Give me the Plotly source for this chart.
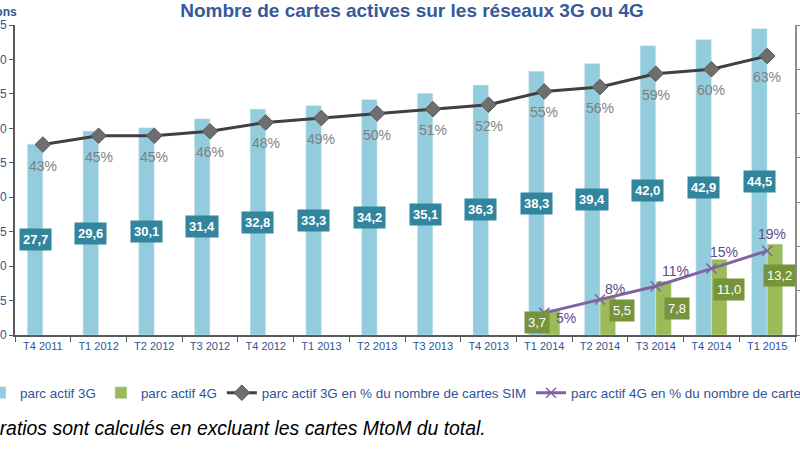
import plotly.graph_objects as go

# ---------------- data ----------------
quarters = ["T4 2011", "T1 2012", "T2 2012", "T3 2012", "T4 2012", "T1 2013", "T2 2013",
            "T3 2013", "T4 2013", "T1 2014", "T2 2014", "T3 2014", "T4 2014", "T1 2015"]
parc_3g = [27.7, 29.6, 30.1, 31.4, 32.8, 33.3, 34.2, 35.1, 36.3, 38.3, 39.4, 42.0, 42.9, 44.5]
quarters_4g = ["T1 2014", "T2 2014", "T3 2014", "T4 2014", "T1 2015"]
parc_4g = [3.7, 5.5, 7.8, 11.0, 13.2]
pct_3g = [43, 45, 45, 46, 48, 49, 50, 51, 52, 55, 56, 59, 60, 63]
pct_4g = [5, 8, 11, 15, 19]

# ---------------- style ----------------
FONT = "Liberation Sans, Arial, sans-serif"
BLUE_TXT = "#2F5597"
C3G = "#93CDDD"
C4G = "#9BBB59"
BOX3G = "#31859C"
BOX4G = "#77933C"
LINE3G = "#404040"
MARK3G = "#6E6E6E"
LINE4G = "#8064A2"
PCT3G_TXT = "#7F7F7F"
PCT4G_TXT = "#5F4A8B"

W, H = 800, 450
ML, MR, MT, MB = 15, 5, 25, 115
PW, PH = W - ML - MR, H - MT - MB


def px_x(px):
    return (px - ML) / PW


def px_y(py):
    return (H - MB - py) / PH


def fmt(v):
    return f"{v:.1f}".replace(".", ",")


BARGAP = 0.44
cat_w = PW / len(quarters)
bar_off = (1 - BARGAP) / 4 * cat_w

# label shifts (pixels) for manually placed labels in the original
lab4g_dx = [-15, 14, 13, 10, 5]
lab4g_dy = [0, 6, 0, 8, 14]
pct4g_dx = [22, 15, 20, 13, 5]
pct4g_dy = [-5, 11, 15, 17, 17]

fig = go.Figure()
fig.add_trace(go.Bar(x=quarters, y=parc_3g, name="parc actif 3G", marker_color=C3G,
                     legend="legend"))
fig.add_trace(go.Bar(x=quarters_4g, y=parc_4g, name="parc actif 4G", marker_color=C4G,
                     legend="legend"))
fig.add_trace(go.Scatter(x=quarters, y=pct_3g, yaxis="y2", mode="lines+markers",
                         name="parc actif 3G en % du nombre de cartes SIM",
                         line=dict(color=LINE3G, width=3),
                         marker=dict(symbol="diamond", size=12, color=MARK3G,
                                     line=dict(color="#595959", width=1)),
                         legend="legend"))
fig.add_trace(go.Scatter(x=quarters_4g, y=pct_4g, yaxis="y2", mode="lines+markers",
                         name="parc actif 4G en % du nombre de cartes SIM",
                         line=dict(color=LINE4G, width=3),
                         marker=dict(symbol="x-thin", size=10, color=LINE4G,
                                     line=dict(color=LINE4G, width=1.5)),
                         legend="legend2"))

ann = []
for q, v in zip(quarters, parc_3g):
    ann.append(dict(x=q, y=v / 2, xref="x", yref="y", text=f"<b>{fmt(v)}</b>",
                    showarrow=False, xshift=-bar_off, bgcolor=BOX3G, borderpad=3,
                    font=dict(color="white", size=13, family=FONT)))
for i, (q, v) in enumerate(zip(quarters_4g, parc_4g)):
    ann.append(dict(x=q, y=v / 2, xref="x", yref="y", text=fmt(v),
                    showarrow=False, xshift=bar_off + lab4g_dx[i], yshift=lab4g_dy[i],
                    bgcolor=BOX4G, borderpad=3,
                    font=dict(color="white", size=13, family=FONT)))
for q, v in zip(quarters, pct_3g):
    ann.append(dict(x=q, y=v, xref="x", yref="y2", text=f"{v}%", showarrow=False,
                    yshift=-21, font=dict(color=PCT3G_TXT, size=14, family=FONT)))
for i, (q, v) in enumerate(zip(quarters_4g, pct_4g)):
    ann.append(dict(x=q, y=v, xref="x", yref="y2", text=f"{v}%", showarrow=False,
                    xshift=pct4g_dx[i], yshift=pct4g_dy[i],
                    font=dict(color=PCT4G_TXT, size=14, family=FONT)))
ann.append(dict(x=px_x(19), y=px_y(12), xref="paper", yref="paper", text="<b>Millions</b>",
                showarrow=False, xanchor="right", yanchor="middle",
                font=dict(color=BLUE_TXT, size=12, family=FONT)))
ann.append(dict(x=px_x(-39), y=px_y(428), xref="paper", yref="paper",
                text="<i>Les ratios sont calculés en excluant les cartes MtoM du total.</i>",
                showarrow=False, xanchor="left", yanchor="middle",
                font=dict(color="black", size=19.4, family=FONT)))

fig.update_layout(
    width=W, height=H,
    margin=dict(l=ML, r=MR, t=MT, b=MB, autoexpand=False),
    paper_bgcolor="white", plot_bgcolor="white",
    font=dict(family=FONT, color=BLUE_TXT),
    title=dict(text="<b>Nombre de cartes actives sur les réseaux 3G ou 4G</b>",
               x=412 / W, xanchor="center", y=1 - 10 / H, yanchor="middle",
               font=dict(size=19, color="#35599A", family=FONT)),
    barmode="group", bargap=BARGAP, bargroupgap=0,
    xaxis=dict(type="category", categoryorder="array", categoryarray=quarters,
               range=[-0.5, len(quarters) - 0.5],
               tickson="boundaries", ticks="outside", ticklen=5, tickcolor="#595959",
               showline=True, linecolor="#595959", linewidth=1.5, showgrid=False,
               tickfont=dict(size=11, color=BLUE_TXT, family=FONT)),
    yaxis=dict(range=[0, 45], dtick=5, ticks="outside", ticklen=4, tickcolor="#595959",
               showline=True, linecolor="#595959", linewidth=2, showgrid=False,
               zeroline=False, tickfont=dict(size=12, color=BLUE_TXT, family=FONT)),
    yaxis2=dict(range=[0, 70], dtick=10, overlaying="y", side="right", ticks="outside",
                ticklen=4, tickcolor="#8C8C8C", showline=True, linecolor="#8C8C8C",
                linewidth=1.5, showgrid=False, zeroline=False, showticklabels=False),
    legend=dict(orientation="h", x=px_x(-20), xanchor="left", y=px_y(393),
                yanchor="middle", font=dict(size=13.4, color=BLUE_TXT, family=FONT),
                bgcolor="rgba(0,0,0,0)", itemwidth=30, traceorder="normal"),
    legend2=dict(orientation="h", x=px_x(531), xanchor="left", y=px_y(393),
                 yanchor="middle", font=dict(size=13.4, color=BLUE_TXT, family=FONT),
                 bgcolor="rgba(0,0,0,0)", itemwidth=30),
    annotations=ann,
)

fig.write_html("out.html", config={"displayModeBar": False},
               post_script="document.body.style.margin='0';document.body.style.overflow='hidden';")
